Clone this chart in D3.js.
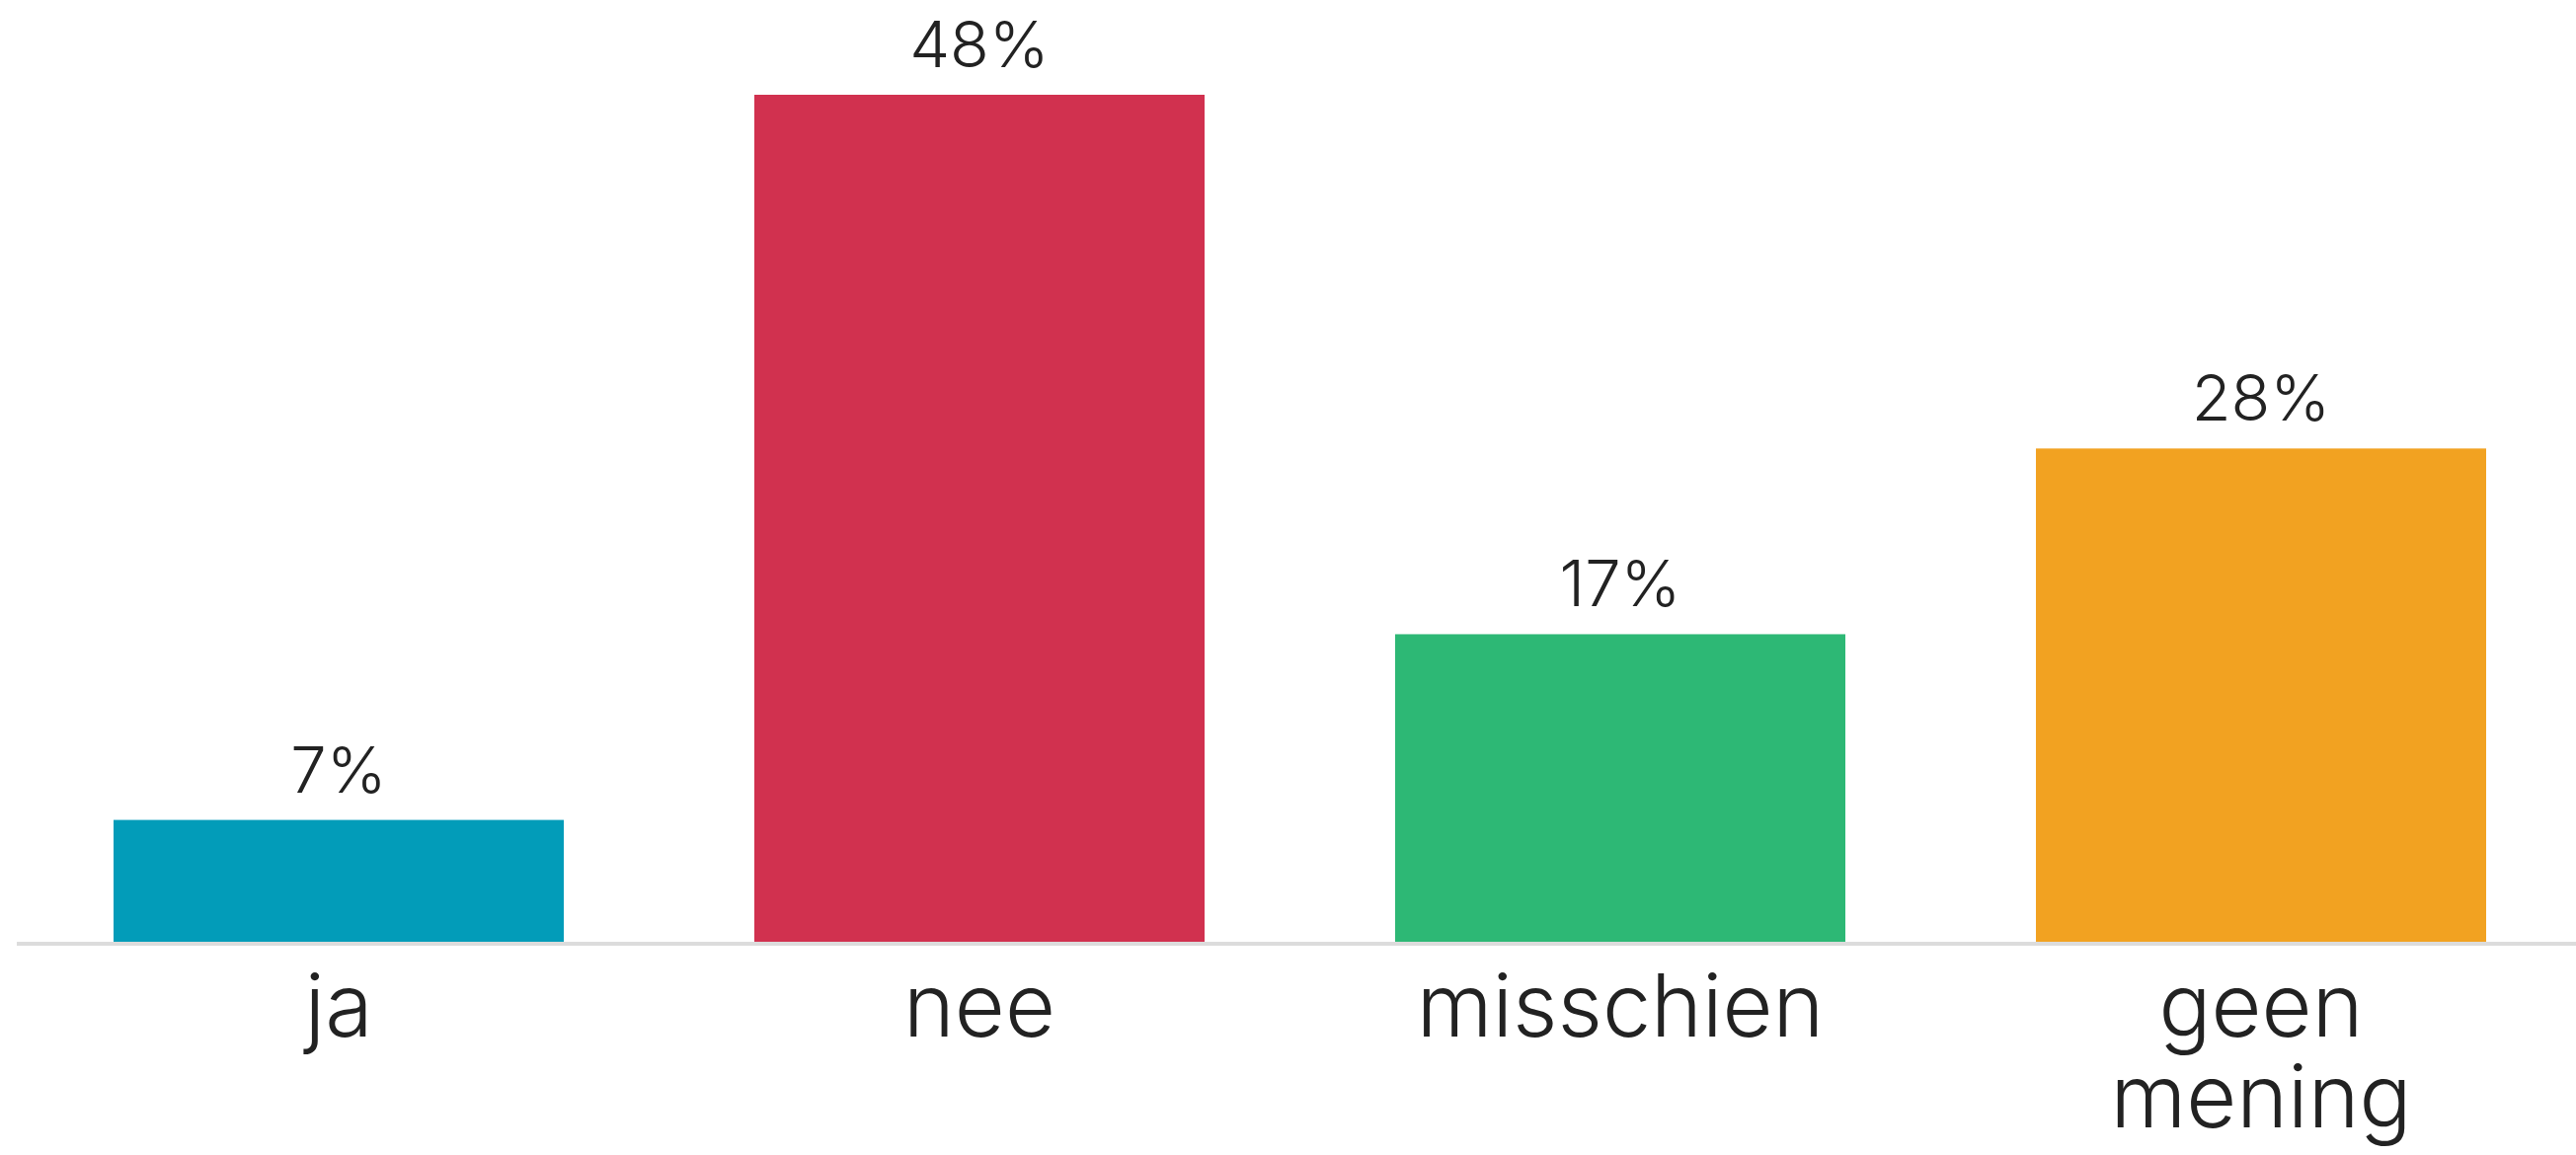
<!DOCTYPE html>
<html>
<head>
<meta charset="utf-8">
<script src="https://cdn.jsdelivr.net/npm/d3@7"></script>
<style>
  html, body { margin: 0; padding: 0; background: #ffffff; }
  svg { display: block; }
  text { font-family: "Inter", "Lato", sans-serif; font-weight: 300; fill: #222222; }
</style>
</head>
<body>
<svg id="chart" width="2609" height="1170"></svg>
<script>
const categories = ["ja", "nee", "misschien", "geen mening"];
const categoryLines = [["ja"], ["nee"], ["misschien"], ["geen", "mening"]];
const values = [7, 48, 17.5, 28];
const valueLabels = ["7%", "48%", "17%", "28%"];
const colors = ["#029cb9", "#d1314f", "#2db875", "#f2a221"];

const W = 2609, H = 1170;
const baseY = 956;
const svg = d3.select("#chart");

const x = d3.scaleBand()
  .domain(categories)
  .range([115, 2518])
  .paddingInner(0.2974)
  .paddingOuter(0);

const y = d3.scaleLinear()
  .domain([0, 48])
  .range([baseY, 96]);

// bars
svg.append("g").selectAll("rect")
  .data(categories)
  .join("rect")
  .attr("x", d => x(d))
  .attr("width", x.bandwidth())
  .attr("y", (d, i) => y(values[i]))
  .attr("height", (d, i) => baseY - y(values[i]))
  .attr("fill", (d, i) => colors[i]);

// baseline
svg.append("line")
  .attr("x1", 17).attr("x2", W)
  .attr("y1", baseY).attr("y2", baseY)
  .attr("stroke", "#dcdcdc")
  .attr("stroke-width", 4);

// value labels
svg.append("g").selectAll("text")
  .data(categories)
  .join("text")
  .attr("x", d => x(d) + x.bandwidth() / 2)
  .attr("y", (d, i) => y(values[i]) - 28)
  .attr("text-anchor", "middle")
  .style("font-size", "65px")
  .text((d, i) => valueLabels[i]);

// category labels
const cat = svg.append("g").selectAll("text")
  .data(categories)
  .join("text")
  .attr("x", d => x(d) + x.bandwidth() / 2)
  .attr("y", 1050)
  .attr("text-anchor", "middle")
  .style("font-size", "88px");

cat.each(function(d, i) {
  const t = d3.select(this);
  categoryLines[i].forEach((line, j) => {
    t.append("tspan")
      .attr("x", x(d) + x.bandwidth() / 2)
      .attr("dy", j === 0 ? 0 : 92)
      .text(line);
  });
});
</script>
</body>
</html>
